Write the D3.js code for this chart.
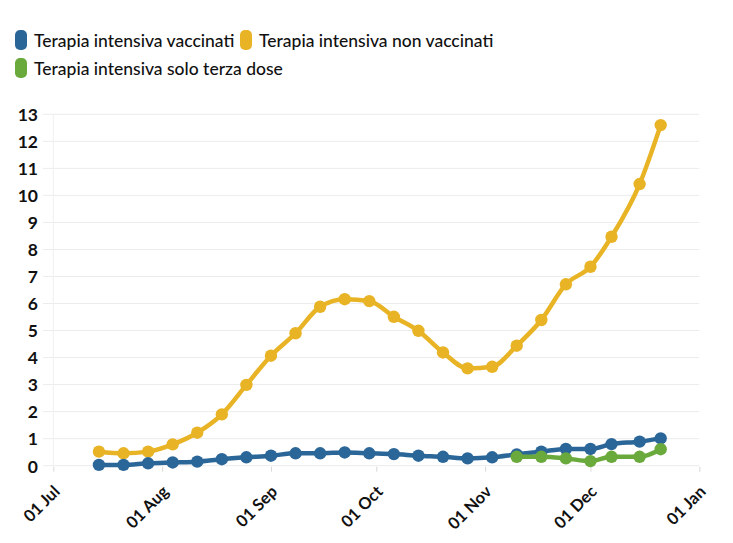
<!DOCTYPE html>
<html><head><meta charset="utf-8">
<script src="https://cdn.jsdelivr.net/npm/d3@7"></script>
<style>
html,body{margin:0;padding:0;background:#fff;}
svg{display:block;}
text{font-family:Lato,"Open Sans",sans-serif;}
</style></head>
<body>
<svg id="c" width="733" height="543"></svg>
<script>
const dates = ["2021-07-14","2021-07-21","2021-07-28","2021-08-04","2021-08-11","2021-08-18","2021-08-25","2021-09-01","2021-09-08","2021-09-15","2021-09-22","2021-09-29","2021-10-06","2021-10-13","2021-10-20","2021-10-27","2021-11-03","2021-11-10","2021-11-17","2021-11-24","2021-12-01","2021-12-07","2021-12-15","2021-12-21"];
const vaccinati = [0.03,0.03,0.09,0.12,0.15,0.24,0.31,0.37,0.46,0.46,0.49,0.46,0.43,0.37,0.33,0.27,0.31,0.42,0.52,0.62,0.62,0.80,0.89,1.01];
const nonVaccinati = [0.52,0.46,0.52,0.79,1.22,1.90,2.99,4.07,4.90,5.88,6.16,6.09,5.51,4.99,4.19,3.60,3.66,4.44,5.39,6.71,7.36,8.47,10.42,12.60];
const terzaDates = ["2021-11-10","2021-11-17","2021-11-24","2021-12-01","2021-12-07","2021-12-15","2021-12-21"];
const terzaDose = [0.33,0.33,0.27,0.17,0.33,0.33,0.61];
const yTicks = [0,1,2,3,4,5,6,7,8,9,10,11,12,13];
const xTickDates = ["2021-07-01","2021-08-01","2021-09-01","2021-10-01","2021-11-01","2021-12-01","2022-01-01"];
const seriesNames = ["Terapia intensiva vaccinati","Terapia intensiva non vaccinati","Terapia intensiva solo terza dose"];
const colors = ["#2b6698","#e8b425","#6aaa3c"];

const parse = d3.timeParse("%Y-%m-%d");
const svg = d3.select("#c");
const x = d3.scaleTime().domain([parse("2021-07-01"), parse("2022-01-01")]).range([53.3, 699.3]);
const y = d3.scaleLinear().domain([0,13]).range([465.7, 114.3]);

// grid
svg.append("g").selectAll("line").data(yTicks).join("line")
  .attr("x1",43).attr("x2",699.3).attr("y1",d=>y(d)).attr("y2",d=>y(d))
  .attr("stroke","#ececec").attr("stroke-width",1);
svg.append("line").attr("x1",x(parse("2021-07-01"))).attr("x2",x(parse("2021-07-01")))
  .attr("y1",y(13)).attr("y2",y(0)).attr("stroke","#f0f0f0");

// y axis labels
const yAxis = d3.axisLeft(y).tickValues(yTicks).tickSize(0).tickPadding(0);
const gy = svg.append("g").attr("transform","translate(38,0)").call(yAxis);
gy.select(".domain").remove();
gy.selectAll("text").attr("font-size",17.5).attr("font-weight",700).attr("fill","#111")
  .style("font-family","Lato,'Open Sans',sans-serif").attr("dy","0.36em");

// x axis
const xAxis = d3.axisBottom(x).tickValues(xTickDates.map(parse)).tickFormat(d3.timeFormat("%d %b")).tickSize(5).tickPadding(4);
const gx = svg.append("g").attr("transform",`translate(0,${y(0)+1})`).call(xAxis);
gx.select(".domain").remove();
gx.selectAll(".tick line").attr("stroke","#d8d8d8");
gx.selectAll("text").attr("font-size",16.5).attr("font-weight",700).attr("fill","#111")
  .style("font-family","Lato,'Open Sans',sans-serif")
  .attr("text-anchor","end").attr("dy",0).attr("y",0)
  .attr("transform","translate(7,26) rotate(-45)");

// lines
const line = d3.line().x(d=>x(d.date)).y(d=>y(d.v)).curve(d3.curveMonotoneX);
const s1 = dates.map((d,i)=>({date:parse(d), v:vaccinati[i]}));
const s2 = dates.map((d,i)=>({date:parse(d), v:nonVaccinati[i]}));
const s3 = terzaDates.map((d,i)=>({date:parse(d), v:terzaDose[i]}));
[[s2,colors[1]],[s1,colors[0]],[s3,colors[2]]].forEach(([s,c])=>{
  svg.append("path").datum(s).attr("d",line).attr("fill","none").attr("stroke",c)
    .attr("stroke-width",4.5).attr("stroke-linejoin","round");
  svg.append("g").selectAll("circle").data(s).join("circle")
    .attr("cx",d=>x(d.date)).attr("cy",d=>y(d.v)).attr("r",6.2).attr("fill",c);
});

// legend
const legendPos = [[15,30],[240,30],[15,58]];
seriesNames.forEach((n,i)=>{
  const [lx,ly] = legendPos[i];
  svg.append("rect").attr("x",lx).attr("y",ly).attr("width",12).attr("height",20).attr("rx",5)
    .attr("fill",colors[i]);
  svg.append("text").attr("x",lx+19).attr("y",ly+16.5).attr("font-size",17.5)
    .attr("font-weight",500).attr("fill","#111").text(n);
});
</script>
</body></html>
